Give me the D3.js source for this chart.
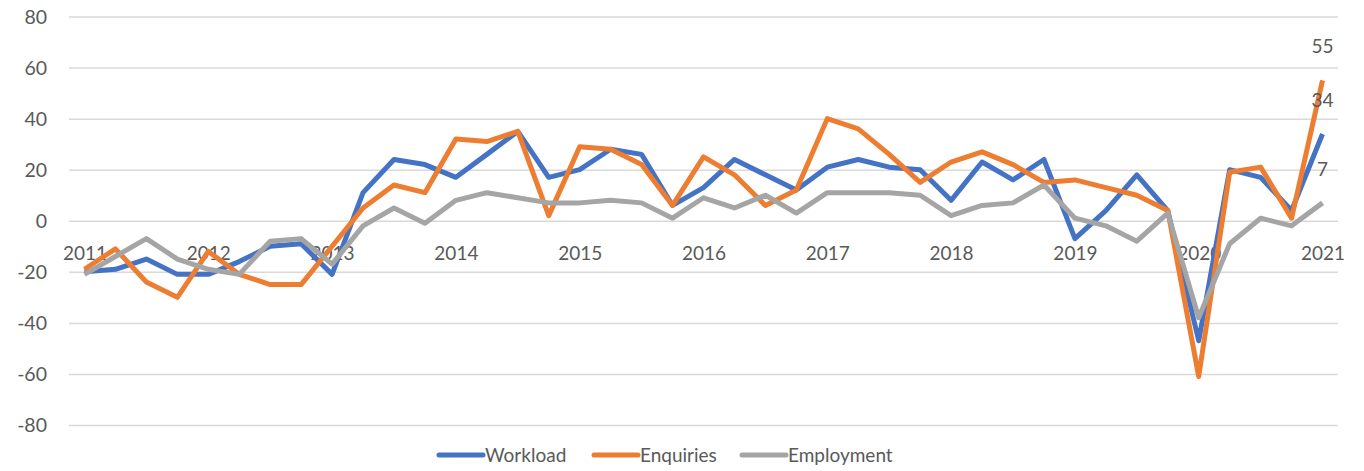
<!DOCTYPE html>
<html>
<head>
<meta charset="utf-8">
<script src="https://cdn.jsdelivr.net/npm/d3@7"></script>
<style>
  body { margin: 0; background: #fff; }
  svg text { font-family: Lato, "Open Sans", sans-serif; fill: #595959; }
</style>
</head>
<body>
<svg id="chart" width="1364" height="471"></svg>
<script>
var years = ["2011", "2012", "2013", "2014", "2015", "2016", "2017", "2018", "2019", "2020", "2021"];
var yTicks = [-80, -60, -40, -20, 0, 20, 40, 60, 80];

// quarterly balances, 2011 Q1 .. 2021 Q1
var workload = [-20, -19, -15, -21, -21, -16, -10, -9, -21, 11, 24, 22, 17, 26, 35, 17, 20, 28, 26, 6,
    13, 24, 18, 12, 21, 24, 21, 20, 8, 23, 16, 24, -7, 4, 18, 4, -47, 20, 17, 4, 34];
var enquiries = [-19, -11, -24, -30, -12, -21, -25, -25, -10, 5, 14, 11, 32, 31, 35, 2, 29, 28, 22, 6,
    25, 18, 6, 12, 40, 36, 26, 15, 23, 27, 22, 15, 16, 13, 10, 4, -61, 19, 21, 1, 55];
var employment = [-21, -14, -7, -15, -19, -21, -8, -7, -17, -2, 5, -1, 8, 11, 9, 7, 7, 8, 7, 1,
    9, 5, 10, 3, 11, 11, 11, 10, 2, 6, 7, 14, 1, -2, -8, 3, -38, -9, 1, -2, 7];

var quarters = [];
years.forEach(function (yr) {
    for (var q = 1; q <= 4; q++) {
        if (quarters.length < workload.length) quarters.push(yr + "Q" + q);
    }
});

var series = [
    { name: "Workload", values: workload, color: "#4472C4" },
    { name: "Enquiries", values: enquiries, color: "#ED7D31" },
    { name: "Employment", values: employment, color: "#A5A5A5" }
];

var svg = d3.select("#chart");
var plotLeft = 69, plotRight = 1338, plotTop = 16.5, plotBottom = 425;

var x = d3.scalePoint()
    .domain(quarters)
    .range([plotLeft, plotRight])
    .padding(0.5);

var y = d3.scaleLinear()
    .domain([-80, 80])
    .range([plotBottom, plotTop]);

// gridlines + value labels (plain hyphen for negatives, like the original)
var yAxis = svg.append("g")
    .attr("transform", "translate(" + plotLeft + ",0)")
    .call(d3.axisLeft(y).tickValues(yTicks).tickSize(-(plotRight - plotLeft)).tickPadding(22).tickFormat(String));
yAxis.select(".domain").remove();
yAxis.selectAll(".tick line").attr("stroke", "#D9D9D9").attr("stroke-width", 1.5);
yAxis.selectAll(".tick text").style("font-size", "19.5px").attr("dy", "0.35em");

// year labels sit just under the zero line
var xAxis = svg.append("g")
    .attr("transform", "translate(0," + (y(0) + 23) + ")")
    .call(d3.axisBottom(x)
        .tickValues(quarters.filter(function (q) { return q.slice(4) === "Q1"; }))
        .tickSize(0)
        .tickFormat(function (q) { return q.slice(0, 4); }));
xAxis.select(".domain").remove();
xAxis.selectAll(".tick text").style("font-size", "19px");

var line = d3.line()
    .x(function (d, i) { return x(quarters[i]); })
    .y(function (d) { return y(d); });

svg.selectAll(".series")
    .data(series)
    .enter()
    .append("path")
        .attr("class", "series")
        .attr("fill", "none")
        .attr("stroke", function (s) { return s.color; })
        .attr("stroke-width", 5)
        .attr("stroke-linejoin", "round")
        .attr("d", function (s) { return line(s.values); });

// last-value labels
var last = quarters.length - 1;
svg.selectAll(".endLabel")
    .data(series)
    .enter()
    .append("text")
        .attr("class", "endLabel")
        .attr("x", x(quarters[last]))
        .attr("y", function (s) { return y(s.values[last]) - 34; })
        .attr("text-anchor", "middle")
        .attr("dy", "0.35em")
        .style("font-size", "19px")
        .text(function (s) { return s.values[last]; });

// legend
var legendX = [437, 592, 740];
var legend = svg.selectAll(".legend")
    .data(series)
    .enter()
    .append("g")
        .attr("class", "legend")
        .attr("transform", function (s, i) { return "translate(" + legendX[i] + ",455)"; });

legend.append("line")
    .attr("x1", 2)
    .attr("x2", 46)
    .attr("stroke", function (s) { return s.color; })
    .attr("stroke-width", 5)
    .attr("stroke-linecap", "round");

legend.append("text")
    .attr("x", 48)
    .attr("dy", "0.35em")
    .style("font-size", "19px")
    .text(function (s) { return s.name; });
</script>
</body>
</html>
